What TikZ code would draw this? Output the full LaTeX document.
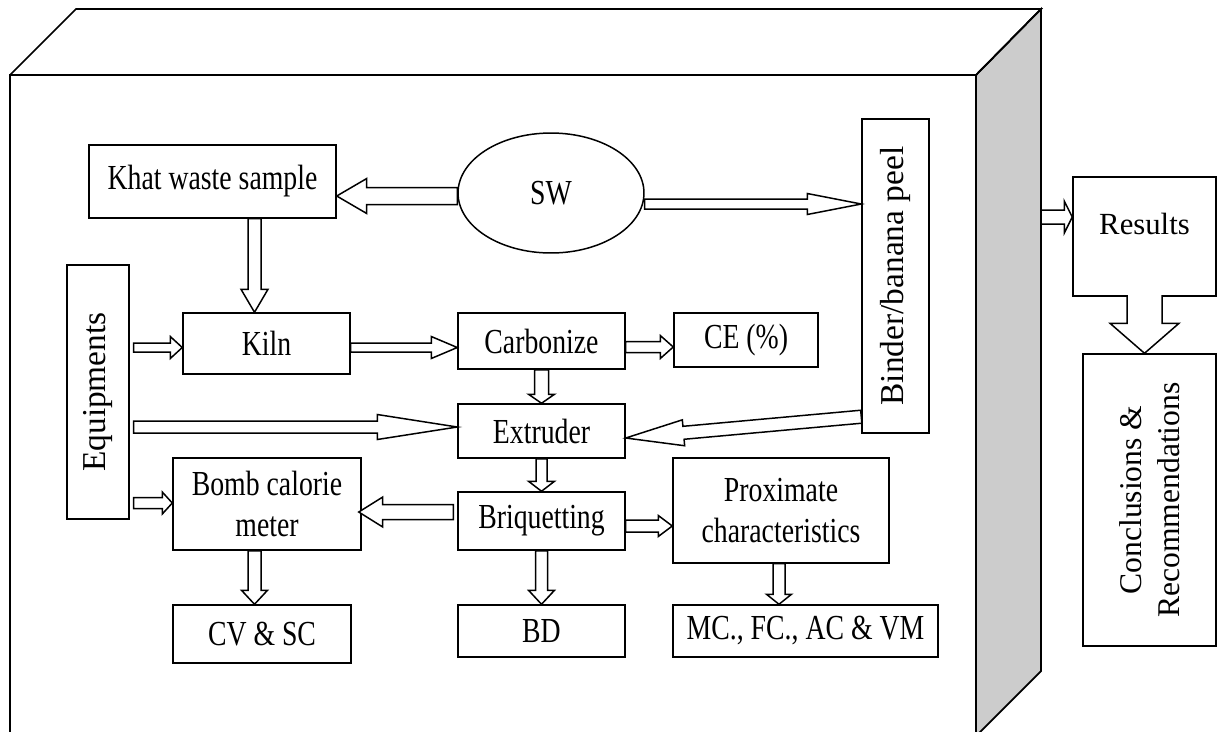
\documentclass[tikz,border=0pt]{standalone}
\usepackage{fontspec}
\setmainfont{Liberation Serif}
\newfontfamily\condserif[FakeStretch=0.79]{Liberation Serif}
\usetikzlibrary{
    calc,
    positioning,
    shapes.geometric
}
\tikzset{
    box/.style={draw, line width=0.85pt, inner sep=0pt, align=center,
        font=\condserif\fontsize{20pt}{23pt}\selectfont},
    sidebox/.style={draw, line width=0.85pt, inner sep=0pt, align=center, rotate=90,
        font=\fontsize{19pt}{22pt}\selectfont},
    blockarr/.style={draw, fill=white, line width=0.85pt, line join=miter},
    cube/.style={line width=1pt, line join=miter}
}
\newcommand{\blockarrow}[6][-- cycle]{%
    \path #2 coordinate (ba-s) #3 coordinate (ba-t);
    \coordinate (ba-h) at ($(ba-t)!#6*0.02cm!(ba-s)$);
    \path[blockarr] ($(ba-s)!#4*0.02cm!90:(ba-t)$) -- ($(ba-h)!#4*0.02cm!90:(ba-t)$)
        -- ($(ba-h)!#5*0.02cm!90:(ba-t)$) -- (ba-t) -- ($(ba-h)!#5*0.02cm!-90:(ba-t)$)
        -- ($(ba-h)!#4*0.02cm!-90:(ba-t)$) -- ($(ba-s)!#4*0.02cm!-90:(ba-t)$) #1;
}

\begin{document}
\begin{tikzpicture}[x=0.02cm, y=-0.02cm]
    \useasboundingbox (0,0) rectangle (1222,731);
    \filldraw[cube, fill=black!20] (976,75) -- (1041,9) -- (1041,671) -- (976,736) -- cycle;
    \draw[cube] (10,736) -- (10,75) -- (976,75) -- (976,736);
    \draw[cube] (10,75) -- (76,9) -- (1041,9) -- (976,75);
    \coordinate (cuberight) at (1041,217);

    \node[box, minimum width=4.94cm, minimum height=1.46cm] (khat) at (212.5,181.5) {Khat waste sample};
    \node[box, ellipse, minimum width=3.72cm, minimum height=2.40cm] (sw) at (551,193) {SW};
    \node[sidebox, minimum width=6.28cm, minimum height=1.34cm] (binder) at (895.5,276) {Binder/banana peel};
    \node[sidebox, minimum width=5.08cm, minimum height=1.24cm] (equip) at (98,392) {Equipments};
    \node[box, minimum width=3.34cm, minimum height=1.22cm] (kiln) at (266.5,343.5) {Kiln};
    \node[box, minimum width=3.34cm, minimum height=1.12cm] (carb) at (541.5,341) {Carbonize};
    \node[box, minimum width=2.88cm, minimum height=1.08cm] (ce) at (746,340) {CE (\%)};
    \node[box, minimum width=3.34cm, minimum height=1.08cm] (extr) at (541.5,431) {Extruder};
    \node[box, minimum width=3.76cm, minimum height=1.84cm] (bomb) at (267,504) {Bomb calorie\\meter};
    \node[box, minimum width=3.34cm, minimum height=1.16cm] (briq) at (541.5,521) {Briquetting};
    \node[box, minimum width=4.32cm, minimum height=2.10cm] (prox) at (781,510.5) {Proximate\\characteristics};
    \node[box, minimum width=3.56cm, minimum height=1.16cm] (cv) at (262,634) {CV \& SC};
    \node[box, minimum width=3.34cm, minimum height=1.04cm] (bd) at (541.5,631) {BD};
    \node[box, minimum width=5.30cm, minimum height=1.04cm] (mc) at (805.5,631) {MC., FC., AC \& VM};
    \node[draw, line width=0.85pt, inner sep=0pt, minimum width=2.86cm, text height=1.14cm, text depth=1.24cm,
        font=\fontsize{17.5pt}{21pt}\selectfont] (results) at (1144.5,236.5) {Results};
    \node[sidebox, minimum width=5.84cm, minimum height=2.66cm, font=\fontsize{18pt}{22pt}\selectfont]
        (concl) at (1149.5,500) {Conclusions \&\\Recommendations};

    \blockarrow{($(sw.west)+(0,3)$)}{($(khat.east |- sw.west)+(0,3)$)}{8.5}{17.5}{30}
    \blockarrow{($(sw.east)+(0,11)$)}{($(binder.north |- sw.east)+(0,11)$)}{5}{10.5}{54}
    \blockarrow{($(khat.south)+(42,0)$)}{($(kiln.north)+(-12,0)$)}{6.5}{13.5}{23}
    \blockarrow{($(equip.south |- kiln.west)+(4,4)$)}{($(kiln.west)+(0,4)$)}{4.5}{11}{12}
    \blockarrow{($(kiln.east)+(0,4)$)}{($(carb.west |- kiln.east)+(0,4)$)}{4.5}{11}{26}
    \blockarrow{($(carb.east)+(0,6)$)}{($(ce.west |- carb.east)+(0,6)$)}{5.5}{11.5}{13}
    \blockarrow{(carb.south)}{(extr.north)}{7}{13}{9}
    \blockarrow{($(equip.south |- extr.west)+(4,-4)$)}{($(extr.west)+(0,-4)$)}{6}{12.5}{80}
    \blockarrow{($(binder.north west)+(0,-17)$)}{($(extr.east)+(0,7)$)}{6.5}{13}{58}
    \blockarrow{(extr.south)}{(briq.north)}{5.5}{13}{10}
    \blockarrow{($(equip.south |- bomb.west)+(4,-1)$)}{($(bomb.west)+(0,-1)$)}{5.5}{11}{10}
    \blockarrow{($(briq.west)+(-4,-9)$)}{($(bomb.east)+(-3,8)$)}{7.5}{15}{24}
    \blockarrow{($(briq.east)+(0,5)$)}{($(prox.west |- briq.east)+(0,5)$)}{6}{10.5}{14}
    \blockarrow{($(bomb.south)+(-12.5,0)$)}{($(cv.north)+(-7.5,0)$)}{6.5}{13}{14}
    \blockarrow{(briq.south)}{(bd.north)}{6}{13}{14}
    \blockarrow{($(prox.south)+(-2,0)$)}{($(prox.south |- mc.north)+(-2,0)$)}{6}{12.5}{10}
    \blockarrow{(cuberight)}{($(results.west)+(0,-19.5)$)}{7}{16}{8}
    \blockarrow[]{($(results.south)+(0,-1.5)$)}{(results.south |- concl.east)}{17.5}{34.5}{30}
\end{tikzpicture}
\end{document}
